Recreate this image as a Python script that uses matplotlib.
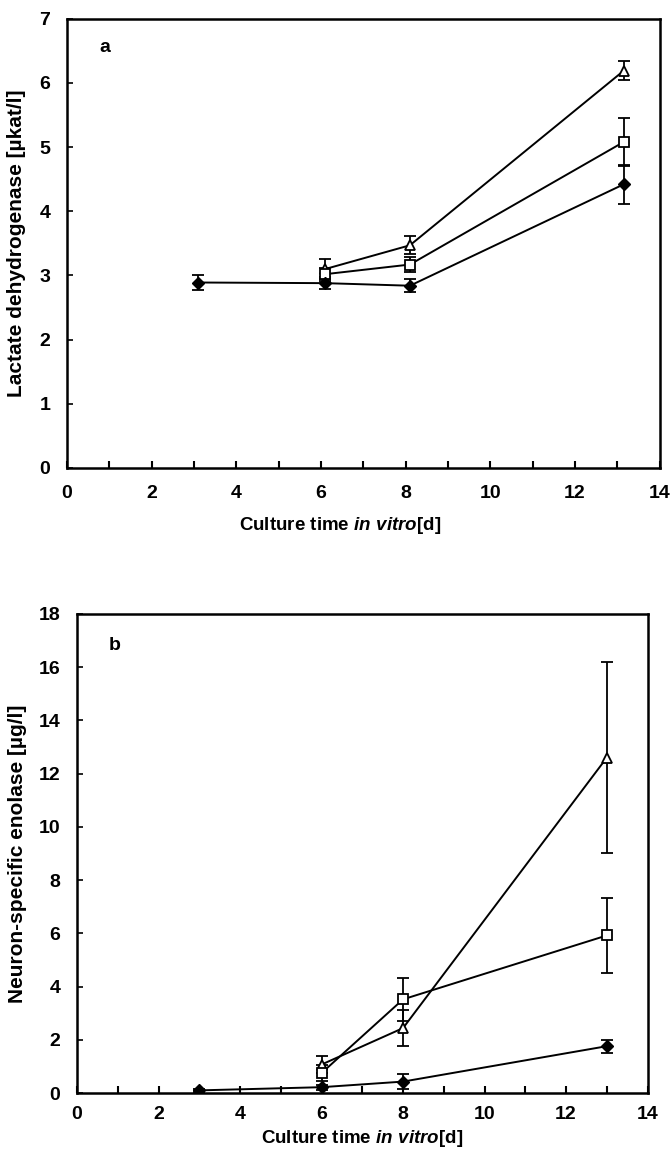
import matplotlib.pyplot as plt
from matplotlib.ticker import MultipleLocator

plt.rcParams['font.family'] = ['Liberation Sans', 'DejaVu Sans']
plt.rcParams['font.weight'] = 'bold'
plt.rcParams['mathtext.fontset'] = 'custom'
plt.rcParams['mathtext.it'] = 'Liberation Sans:italic:bold'
plt.rcParams['mathtext.rm'] = 'Liberation Sans:bold'

# Panel a: lactate dehydrogenase [ukat/l]
ldh_days_ctrl = [3.1, 6.1, 8.1, 13.15]
ldh_ctrl = [2.89, 2.88, 2.84, 4.42]
ldh_ctrl_err = [0.11, 0.09, 0.10, 0.30]
ldh_days = [6.1, 8.1, 13.15]
ldh_sq = [3.02, 3.17, 5.08]
ldh_sq_err = [0.10, 0.12, 0.37]
ldh_tri = [3.10, 3.47, 6.19]
ldh_tri_err = [0.15, 0.14, 0.15]

# Panel b: neuron-specific enolase [ug/l]
nse_days_ctrl = [3, 6, 8, 13]
nse_ctrl = [0.10, 0.22, 0.43, 1.76]
nse_ctrl_err = [0.05, 0.10, 0.28, 0.25]
nse_days = [6, 8, 13]
nse_sq = [0.75, 3.52, 5.92]
nse_sq_err = [0.30, 0.82, 1.40]
nse_tri = [1.07, 2.44, 12.6]
nse_tri_err = [0.33, 0.69, 3.6]

fig = plt.figure(figsize=(6.72, 11.49), dpi=100)
ax_a = fig.add_axes([0.0997, 0.5927, 0.882, 0.391])
ax_b = fig.add_axes([0.1146, 0.0487, 0.849, 0.417])

eb = dict(color='black', lw=1.4, capsize=4, elinewidth=1.3, capthick=1.3, ms=7)


def draw(ax, dc, c, ce, d, s, se, t, te, tpad, lpad):
    ax.errorbar(d, t, yerr=te, marker='^', mfc='white', mec='black', mew=1.3, **eb)
    ax.errorbar(d, s, yerr=se, marker='s', mfc='white', mec='black', mew=1.3,
                **{**eb, 'ms': 6.5})
    ax.errorbar(dc, c, yerr=ce, marker='D', mfc='black', mec='black', **{**eb, 'ms': 6.5})
    ax.set_xlim(0, 14)
    ax.xaxis.set_major_locator(MultipleLocator(2))
    ax.xaxis.set_minor_locator(MultipleLocator(1))
    ax.tick_params(axis='x', which='both', direction='in', top=False, length=5,
                   width=1.5, labelsize=14, pad=tpad)
    ax.tick_params(axis='y', which='both', direction='in', right=False, length=4,
                   width=1.2, labelsize=14, pad=12)
    for sp in ax.spines.values():
        sp.set_linewidth(1.8)
    ax.set_xlabel(r'Culture time $\mathit{in\ vitro}$[d]', fontsize=13.5,
                  fontweight='bold', labelpad=lpad)


draw(ax_a, ldh_days_ctrl, ldh_ctrl, ldh_ctrl_err, ldh_days, ldh_sq, ldh_sq_err,
     ldh_tri, ldh_tri_err, 12, 9)
ax_a.set_ylim(0, 7)
ax_a.yaxis.set_major_locator(MultipleLocator(1))
ax_a.set_ylabel('Lactate dehydrogenase [µkat/l]', fontsize=15, fontweight='bold',
                labelpad=10)
ax_a.xaxis.set_label_coords(0.46, -0.105)
ax_a.text(0.055, 0.925, 'a', transform=ax_a.transAxes, fontsize=14, fontweight='bold')

draw(ax_b, nse_days_ctrl, nse_ctrl, nse_ctrl_err, nse_days, nse_sq, nse_sq_err,
     nse_tri, nse_tri_err, 9, 4)
ax_b.set_ylim(0, 18)
ax_b.yaxis.set_major_locator(MultipleLocator(2))
ax_b.set_ylabel('Neuron-specific enolase [µg/l]', fontsize=15, fontweight='bold',
                labelpad=8)
ax_b.text(0.055, 0.925, 'b', transform=ax_b.transAxes, fontsize=14, fontweight='bold')

fig.savefig('out.png', dpi=100)
